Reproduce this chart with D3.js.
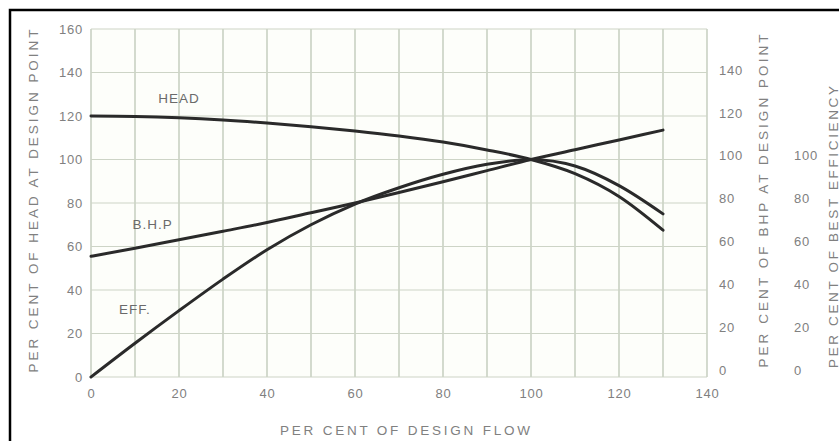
<!DOCTYPE html>
<html><head><meta charset="utf-8">
<script src="https://cdn.jsdelivr.net/npm/d3@7/dist/d3.min.js"></script>
<style>html,body{margin:0;padding:0;background:#fff;overflow:hidden}</style>
</head><body>
<svg id="c" width="839" height="441"></svg>
<script>
// ---- data ----
const flow = [0,10,20,30,40,50,60,70,80,90,100,110,120,130];
const head = [120,119.8,119.2,118.2,116.8,115.1,113.1,110.8,108,104.4,100,93.5,83,67.5];
const bhp  = [55.5,59.2,63.1,67,71,75.5,80,84.8,89.8,94.9,100,104.5,109,113.5];
const eff  = [0,15.5,30.5,45,58.5,70,79.5,87,93.2,97.8,100,97,88,75];
const xTicks = [0,20,40,60,80,100,120,140];
const headTicks = [0,20,40,60,80,100,120,140,160];
const bhpTicks = [0,20,40,60,80,100,120,140];
const effTicks = [0,20,40,60,80,100];
const curveLabels = [["HEAD",20,128],["B.H.P",14,70],["EFF.",10,31]];
const titles = {x:"PER CENT OF DESIGN FLOW", head:"PER CENT OF HEAD AT DESIGN POINT",
  bhp:"PER CENT OF BHP AT DESIGN POINT", eff:"PER CENT OF BEST EFFICIENCY"};

// ---- chart ----
const svg = d3.select("#c");
const font = "Liberation Sans, Arial, sans-serif";
const tcol = "#808080";
svg.append("rect").attr("x",10).attr("y",10).attr("width",900).attr("height",500)
  .attr("fill","#fff").attr("stroke","#000").attr("stroke-width",2.5);

const x = d3.scaleLinear().domain([0,140]).range([91,707]);
const yL = d3.scaleLinear().domain([0,160]).range([377,29]);
const yR = d3.scaleLinear().domain([0,140]).range([370,70]);

svg.append("rect").attr("x",x(0)).attr("y",yL(160)).attr("width",x(140)-x(0)).attr("height",yL(0)-yL(160))
  .attr("fill","#fdfefa");

const g = svg.append("g");
g.selectAll(".vg").data(d3.range(0,141,10)).join("line")
  .attr("x1",d=>x(d)).attr("x2",d=>x(d)).attr("y1",yL(0)).attr("y2",yL(160))
  .attr("stroke","#b8c2b0").attr("stroke-width",1.2);
g.selectAll(".hg").data(d3.range(0,161,20)).join("line")
  .attr("x1",x(0)).attr("x2",x(140)).attr("y1",d=>yL(d)).attr("y2",d=>yL(d))
  .attr("stroke","#cdd4c6").attr("stroke-width",1.2);

function styleAxis(sel){
  sel.select(".domain").remove();
  sel.selectAll("text").attr("fill",tcol).style("font-family",font).style("font-size","13px")
    .style("letter-spacing","0.8px");
}
svg.append("g").attr("transform",`translate(0,${yL(0)})`)
  .call(d3.axisBottom(x).tickValues(xTicks).tickSize(0).tickPadding(12)).call(styleAxis);
svg.append("g").attr("transform",`translate(${x(0)-8},0)`)
  .call(d3.axisLeft(yL).tickValues(headTicks).tickSize(0).tickPadding(0)).call(styleAxis);
svg.append("g").attr("transform",`translate(719,0)`)
  .call(d3.axisRight(yR).tickValues(bhpTicks).tickSize(0).tickPadding(0)).call(styleAxis);
svg.append("g").attr("transform",`translate(794,0)`)
  .call(d3.axisRight(yR).tickValues(effTicks).tickSize(0).tickPadding(0)).call(styleAxis);

function title(txt,cx,cy,len,rot){
  svg.append("text").attr("transform",`translate(${cx},${cy}) rotate(${rot})`)
    .attr("text-anchor","middle").attr("dominant-baseline","central")
    .attr("textLength",len).attr("lengthAdjust","spacing")
    .attr("fill",tcol).style("font-family",font).style("font-size","13.5px").text(txt);
}
title(titles.x,405,430,250,0);
title(titles.head,33,201,343,-90);
title(titles.bhp,763,201,333,-90);
title(titles.eff,833,227,282,-90);

const line = d3.line().x((d,i)=>x(flow[i])).y(d=>yL(d)).curve(d3.curveMonotoneX);
[head,bhp,eff].forEach(s=>{
  svg.append("path").attr("d",line(s)).attr("fill","none").attr("stroke","#2a2a2a")
    .attr("stroke-width",3).attr("stroke-linecap","round");
});
curveLabels.forEach(([t,fx,fy])=>{
  svg.append("text").attr("x",x(fx)).attr("y",yL(fy)).attr("text-anchor","middle")
    .attr("dominant-baseline","central").attr("fill","#6a6a6a")
    .style("font-family",font).style("font-size","13.5px").style("letter-spacing","1px").text(t);
});
</script>
</body></html>
